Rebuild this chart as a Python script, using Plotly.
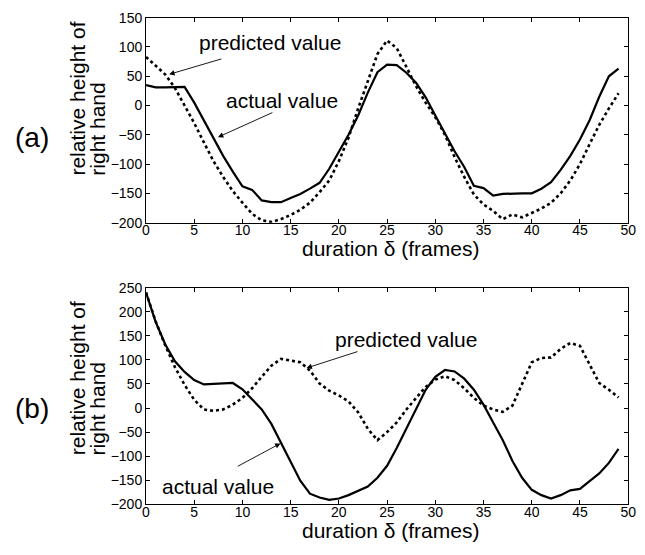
import plotly.graph_objects as go
from plotly.subplots import make_subplots

frames = list(range(50))

a_actual = [35, 31, 31, 32, 32, 5, -25, -55, -86, -113,
            -138, -144, -162, -165, -165, -158, -151, -142, -132, -108,
            -80, -50, -17, 22, 57, 70, 69, 56, 39, 14,
            -17, -47, -78, -105, -137, -141, -154, -151, -150, -150,
            -150, -142, -131, -110, -86, -58, -25, 15, 50, 63]
a_predicted = [83, 68, 53, 30, 0, -30, -63, -95, -122, -146,
               -166, -185, -196, -199, -194, -187, -178, -166, -148, -128,
               -95, -55, -5, 40, 88, 111, 98, 66, 33, 5,
               -20, -50, -88, -122, -152, -169, -180, -194, -186, -191,
               -183, -176, -166, -150, -128, -100, -66, -33, -5, 21]
b_actual = [240, 179, 132, 97, 75, 58, 49, 50, 52, 52,
            39, 17, -3, -33, -73, -114, -151, -178, -186, -191,
            -188, -181, -172, -163, -145, -120, -83, -43, -3, 38,
            65, 79, 76, 61, 38, 7, -30, -67, -110, -145,
            -170, -181, -188, -181, -171, -168, -152, -136, -114, -85]
b_predicted = [240, 180, 130, 85, 48, 17, -3, -6, -3, 7,
               21, 41, 65, 88, 102, 98, 95, 78, 51, 36,
               26, 14, -9, -43, -67, -50, -30, -3, 21, 44,
               59, 66, 58, 41, 21, 5, -3, -8, 5, 50,
               95, 104, 105, 123, 135, 129, 92, 52, 38, 22]

x_ticks = list(range(0, 51, 5))
a_yticks = list(range(-200, 151, 50))
b_yticks = list(range(-200, 251, 50))

W, H = 645, 555
X0, X1 = 144.7, 636.0
A_TOP, A_BOT = 10.0, 221.0
B_TOP, B_BOT = 288.0, 511.0

fig = make_subplots(rows=2, cols=1)

for row, act, pred in [(1, a_actual, a_predicted), (2, b_actual, b_predicted)]:
    fig.add_trace(go.Scatter(x=frames, y=pred, mode="lines",
                             line=dict(color="black", width=2.6, dash="dot"),
                             showlegend=False), row=row, col=1)
    fig.add_trace(go.Scatter(x=frames, y=act, mode="lines",
                             line=dict(color="black", width=2.2),
                             showlegend=False), row=row, col=1)

axis_common = dict(showline=True, linecolor="black", linewidth=1, mirror="ticks",
                   ticks="inside", ticklen=4, tickcolor="black", tickwidth=1,
                   showgrid=False, zeroline=False, ticklabeloverflow="allow",
                   tickfont=dict(family="Liberation Sans", size=14, color="black"))

fig.update_layout(
    width=W, height=H, margin=dict(l=0, r=0, t=0, b=0),
    paper_bgcolor="white", plot_bgcolor="white",
    xaxis=dict(domain=[X0 / W, X1 / W], range=[0, 50], tickvals=x_ticks,
               ticklabelstandoff=-5, **axis_common),
    xaxis2=dict(domain=[X0 / W, X1 / W], range=[0, 50], tickvals=x_ticks,
                ticklabelstandoff=-5, **axis_common),
    yaxis=dict(domain=[1 - A_BOT / H, 1 - A_TOP / H], range=[-200, 150], tickvals=a_yticks, **axis_common),
    yaxis2=dict(domain=[1 - B_BOT / H, 1 - B_TOP / H], range=[-200, 250], tickvals=b_yticks, **axis_common),
)

FONT = dict(family="Liberation Sans", size=21, color="black")


def px2a(px, py):
    return (px - X0) / (X1 - X0) * 50, 150 - (py - A_TOP) / (A_BOT - A_TOP) * 350


def px2b(px, py):
    return (px - X0) / (X1 - X0) * 50, 250 - (py - B_TOP) / (B_BOT - B_TOP) * 450


def paper_text(text, px, py, size=21, angle=0, xanchor="center", yanchor="middle"):
    fig.add_annotation(text=text, xref="paper", yref="paper", x=px / W, y=1 - py / H,
                       showarrow=False, textangle=angle, xanchor=xanchor, yanchor=yanchor,
                       font=dict(FONT, size=size))


def arrow(conv, xr, yr, tail, head):
    hx, hy = conv(*head)
    tx, ty = conv(*tail)
    fig.add_annotation(text="", xref=xr, yref=yr, axref=xr, ayref=yr,
                       x=hx, y=hy, ax=tx, ay=ty, showarrow=True,
                       arrowhead=2, arrowsize=1.2, arrowwidth=0.9, arrowcolor="black")


# panel labels
paper_text("(a)", 29, 133, size=28)
paper_text("(b)", 29, 412, size=28)

# y titles
for (x1, x2, ystart) in [(75, 95, 175), (75, 95, 463)]:
    paper_text("relative height of", x1, ystart, angle=-90, yanchor="bottom")
    paper_text("right hand", x2, ystart, angle=-90, yanchor="bottom")

# x titles
paper_text("duration δ (frames)", 394, 248)
paper_text("duration δ (frames)", 394, 538)

# in-plot labels
paper_text("predicted value", 271, 36)
paper_text("actual value", 283, 95)
paper_text("predicted value", 410, 341)
paper_text("actual value", 218, 493)

arrow(px2a, "x", "y", (223, 52), (168.3, 68.3))
arrow(px2a, "x", "y", (275, 107), (218, 133))
arrow(px2b, "x2", "y2", (361.7, 353.3), (308.3, 370.7))
arrow(px2b, "x2", "y2", (236.7, 472.7), (281.7, 448.3))

fig.write_html("out.html", config={"displayModeBar": False},
               post_script="document.body.style.margin='0px';")
